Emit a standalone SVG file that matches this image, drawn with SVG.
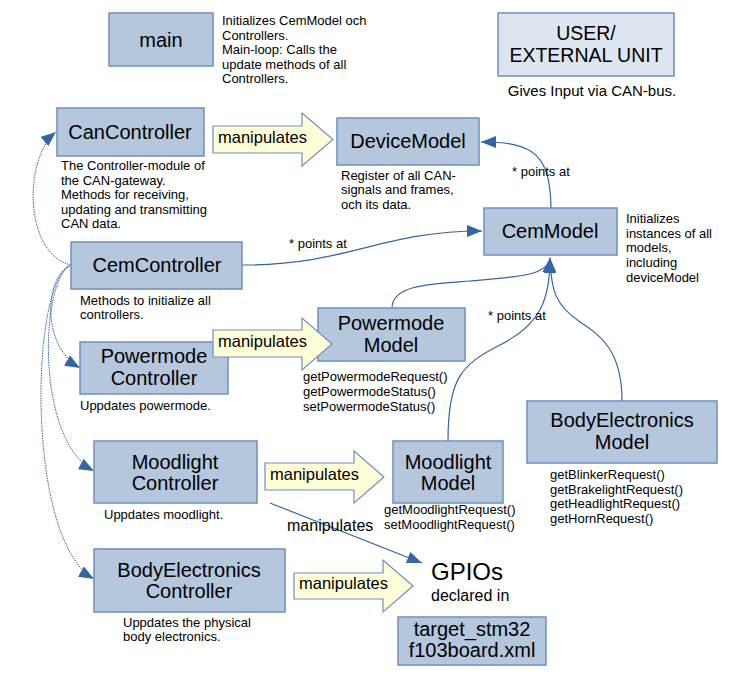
<svg xmlns="http://www.w3.org/2000/svg" width="750" height="675" viewBox="0 0 750 675">
<style>
text{font-family:"Liberation Sans",Arial,sans-serif;fill:#000}
.box{fill:#b4c7dc;stroke:#6d8fc3;stroke-width:1.5}
.ubox{fill:#dde6f0;stroke:#6d8fc3;stroke-width:1.5}
.t{font-size:20px;text-anchor:middle}
.d{font-size:13px}
.s{font-size:13px}
.m{font-size:16.5px}
.barrow{fill:#ffffd7;stroke:#6d8fc3;stroke-width:1.2}
.c{fill:none;stroke:#3465a4;stroke-width:1.2}
.dash{fill:none;stroke:#3465a4;stroke-width:1;stroke-dasharray:1.5 1}
</style>
<defs>
<marker id="ah" markerUnits="userSpaceOnUse" markerWidth="16" markerHeight="12" refX="15" refY="6" orient="auto">
<path d="M0,0 L15,6 L0,12 Z" fill="#3465a4"/>
</marker>
</defs>
<g id="connectors">
<path class="c" d="M551,208 C550,155 535,142 481,142" marker-end="url(#ah)"/>
<path class="c" d="M242,265 C350,265 380,231 482,231" marker-end="url(#ah)"/>
<path class="c" d="M392,308 C392,285 430,284 470,281 C520,277 548,275 550,258" marker-end="url(#ah)"/>
<path class="c" d="M448,441 C448,380 460,365 500,345 C540,325 550,300 550,258" marker-end="url(#ah)"/>
<path class="c" d="M622,401 C622,350 600,335 580,322 C555,305 551,290 550,258" marker-end="url(#ah)"/>
<path class="c" d="M270,503 L422,563" marker-end="url(#ah)"/>
<path class="dash" d="M71,265 C25,255 22,160 56,132" marker-end="url(#ah)"/>
<path class="dash" d="M71,265 C45,275 40,345 80,368" marker-end="url(#ah)"/>
<path class="dash" d="M71,265 C40,280 35,440 94,471" marker-end="url(#ah)"/>
<path class="dash" d="M71,265 C30,280 25,540 94,579" marker-end="url(#ah)"/>
<text class="d" x="512" y="176">* points at</text>
<text class="d" x="289" y="248">* points at</text>
<text class="d" x="488" y="320">* points at</text>
<text x="287" y="531" style="font-size:16px">manipulates</text>
</g>
<g id="main">
<rect class="box" x="109" y="13" width="104" height="53"/>
<text class="t" x="161" y="47">main</text>
<text class="d" x="222" y="25">Initializes CemModel och</text>
<text class="d" x="222" y="40">Controllers.</text>
<text class="d" x="222" y="54">Main-loop: Calls the</text>
<text class="d" x="222" y="69">update methods of all</text>
<text class="d" x="222" y="83">Controllers.</text>
</g>
<g id="user">
<rect class="ubox" x="498" y="13" width="176" height="63"/>
<text class="t" x="586" y="40" style="font-size:19.5px">USER/</text>
<text class="t" x="586" y="62" style="font-size:19.5px">EXTERNAL UNIT</text>
<text x="592" y="96" style="font-size:15px;text-anchor:middle">Gives Input via CAN-bus.</text>
</g>
<g id="canController">
<rect class="box" x="57" y="108" width="147" height="48"/>
<text class="t" x="130" y="139">CanController</text>
<text class="s" x="61" y="170">The Controller-module of</text>
<text class="s" x="61" y="185">the CAN-gateway.</text>
<text class="s" x="61" y="199">Methods for receiving,</text>
<text class="s" x="61" y="214">updating and transmitting</text>
<text class="s" x="61" y="228">CAN data.</text>
</g>
<g id="deviceModel">
<rect class="box" x="337" y="118" width="142" height="47"/>
<text class="t" x="408" y="148">DeviceModel</text>
<text class="s" x="341" y="180">Register of all CAN-</text>
<text class="s" x="341" y="194">signals and frames,</text>
<text class="s" x="341" y="209">och its data.</text>
</g>
<g id="cemModel">
<rect class="box" x="484" y="208" width="133" height="47"/>
<text class="t" x="550" y="238">CemModel</text>
<text class="s" x="626" y="223">Initializes</text>
<text class="s" x="626" y="238">instances of all</text>
<text class="s" x="626" y="252">models,</text>
<text class="s" x="626" y="267">including</text>
<text class="s" x="626" y="282">deviceModel</text>
</g>
<g id="cemController">
<rect class="box" x="71" y="242" width="171" height="47"/>
<text class="t" x="157" y="272">CemController</text>
<text class="s" x="80" y="305">Methods to initialize all</text>
<text class="s" x="80" y="319">controllers.</text>
</g>
<g id="powermodeController">
<rect class="box" x="80" y="342" width="148" height="52"/>
<text class="t" x="154" y="363">Powermode</text>
<text class="t" x="154" y="385">Controller</text>
<text class="s" x="80" y="410">Uppdates powermode.</text>
</g>
<g id="powermodeModel">
<rect class="box" x="318" y="308" width="147" height="53"/>
<text class="t" x="391" y="330">Powermode</text>
<text class="t" x="391" y="352">Model</text>
<text class="d" x="303" y="381">getPowermodeRequest()</text>
<text class="d" x="303" y="396">getPowermodeStatus()</text>
<text class="d" x="303" y="411">setPowermodeStatus()</text>
</g>
<g id="moodlightController">
<rect class="box" x="94" y="441" width="163" height="62"/>
<text class="t" x="175" y="469">Moodlight</text>
<text class="t" x="175" y="490">Controller</text>
<text class="s" x="104" y="519">Uppdates moodlight.</text>
</g>
<g id="moodlightModel">
<rect class="box" x="393" y="441" width="110" height="62"/>
<text class="t" x="448" y="469">Moodlight</text>
<text class="t" x="448" y="490">Model</text>
<text class="d" x="384" y="514">getMoodlightRequest()</text>
<text class="d" x="384" y="529">setMoodlightRequest()</text>
</g>
<g id="bodyElectronicsModel">
<rect class="box" x="527" y="401" width="190" height="62"/>
<text class="t" x="622" y="427">BodyElectronics</text>
<text class="t" x="622" y="449">Model</text>
<text class="d" x="550" y="479">getBlinkerRequest()</text>
<text class="d" x="550" y="494">getBrakelightRequest()</text>
<text class="d" x="550" y="508">getHeadlightRequest()</text>
<text class="d" x="550" y="523">getHornRequest()</text>
</g>
<g id="bodyElectronicsController">
<rect class="box" x="94" y="549" width="191" height="63"/>
<text class="t" x="189" y="577">BodyElectronics</text>
<text class="t" x="189" y="598">Controller</text>
<text class="s" x="123" y="627">Uppdates the physical</text>
<text class="s" x="123" y="641">body electronics.</text>
</g>
<g id="gpios">
<text x="431" y="580" style="font-size:24px">GPIOs</text>
<text x="431" y="601" style="font-size:16px">declared in</text>
</g>
<g id="targetBoard">
<rect class="box" x="398" y="617" width="148" height="48"/>
<text class="t" x="472" y="636">target_stm32</text>
<text class="t" x="472" y="657">f103board.xml</text>
</g>
<g id="manip1">
<path class="barrow" d="M213,126 H302 V113 L333,139.5 L302,166 V153 H213 Z"/>
<text class="m" x="218" y="143">manipulates</text>
</g>
<g id="manip2">
<path class="barrow" d="M213,330 H302 V318 L332,344 L302,370 V357 H213 Z"/>
<text class="m" x="218" y="347">manipulates</text>
</g>
<g id="manip3">
<path class="barrow" d="M265,463 H354 V451 L384,477 L354,503 V490 H265 Z"/>
<text class="m" x="270" y="480">manipulates</text>
</g>
<g id="manip4">
<path class="barrow" d="M294,573 H383 V560 L413,586 L383,612 V599 H294 Z"/>
<text class="m" x="299" y="589">manipulates</text>
</g>
</svg>
